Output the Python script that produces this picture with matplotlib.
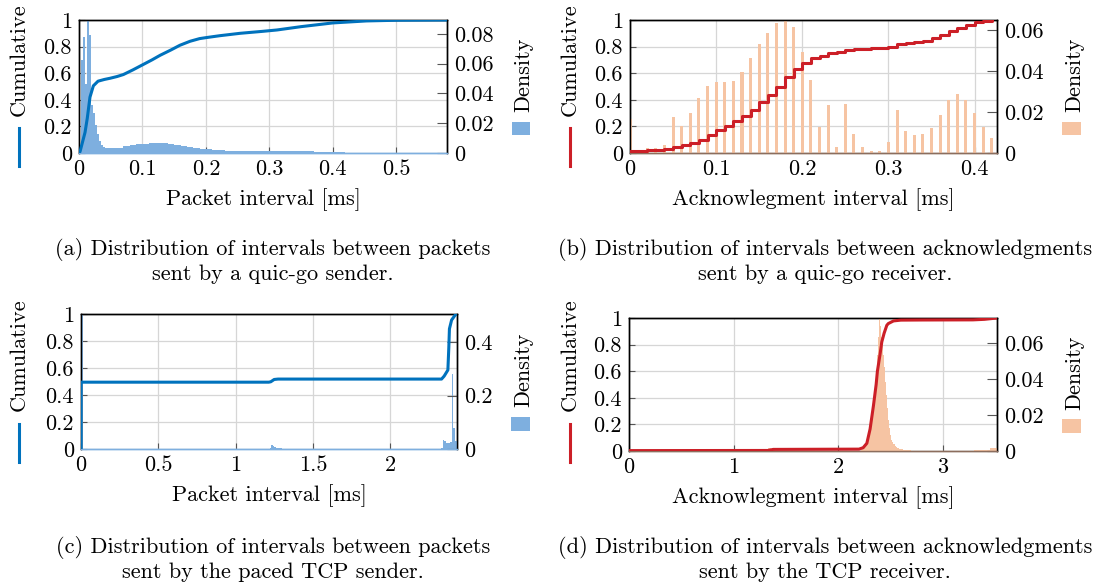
import numpy as np
import matplotlib
matplotlib.use("Agg")
import matplotlib.pyplot as plt
from matplotlib.lines import Line2D
from matplotlib.patches import Rectangle
from matplotlib.ticker import FuncFormatter

plt.rcParams['font.family'] = ['cmr10', 'DejaVu Serif']
plt.rcParams['mathtext.fontset'] = 'cm'
plt.rcParams['axes.unicode_minus'] = False
plt.rcParams['axes.formatter.use_mathtext'] = True

# ---------------- data ----------------
# (a) quic-go sender: packet intervals
a_hist_edges = [0, 0.0032, 0.0064, 0.0096, 0.0128, 0.016, 0.0192, 0.0224, 0.0256, 0.0288,
                0.032, 0.0352, 0.0384, 0.0416, 0.045, 0.05, 0.06, 0.07, 0.08, 0.09, 0.10,
                0.11, 0.12, 0.13, 0.14, 0.15, 0.16, 0.17, 0.18, 0.19, 0.20, 0.21, 0.22, 0.23,
                0.24, 0.25, 0.26, 0.27, 0.28, 0.29, 0.30, 0.31, 0.32, 0.33, 0.34, 0.35, 0.36,
                0.37, 0.38, 0.39, 0.40, 0.42, 0.45, 0.50, 0.58]
a_hist_density = [0.0054, 0.0626, 0.0778, 0.0465, 0.0894, 0.0796, 0.0322, 0.0268, 0.0188,
                  0.0125, 0.0080, 0.0054, 0.0040, 0.0036, 0.0031, 0.0031, 0.0036, 0.0045,
                  0.0054, 0.0061, 0.0063, 0.0064, 0.0065, 0.0064, 0.0061, 0.0055, 0.0049,
                  0.0043, 0.0036, 0.0030, 0.0025, 0.0021, 0.0017, 0.0015, 0.0013, 0.0012,
                  0.0011, 0.0011, 0.0011, 0.0012, 0.0013, 0.0014, 0.0015, 0.0015, 0.0015,
                  0.0013, 0.0011, 0.0009, 0.0007, 0.0005, 0.0004, 0.0003, 0.0002, 0.0001]
a_cdf_x = [0.0, 0.0016, 0.0095, 0.013, 0.0173, 0.0226, 0.030, 0.040, 0.049, 0.060, 0.070,
           0.085, 0.101, 0.115, 0.128, 0.145, 0.159, 0.175, 0.19, 0.201, 0.222, 0.254, 0.29,
           0.312, 0.35, 0.40, 0.453, 0.50, 0.58]
a_cdf_y = [0.0, 0.01, 0.155, 0.26, 0.42, 0.505, 0.54, 0.553, 0.562, 0.575, 0.59, 0.625, 0.665,
           0.70, 0.735, 0.775, 0.81, 0.84, 0.86, 0.868, 0.882, 0.90, 0.915, 0.925, 0.95,
           0.978, 0.993, 0.998, 1.0]

# (b) quic-go receiver: acknowledgment intervals
b_bins = [round(0.01 * i, 2) for i in range(43)]
b_hist_density = [0.0164, 0.0007, 0.0023, 0.0026, 0.0039, 0.0177, 0.0133, 0.0195, 0.0270,
                  0.0329, 0.0347, 0.0347, 0.0351, 0.0394, 0.0464, 0.0533, 0.0585, 0.0634,
                  0.0650, 0.0616, 0.0495, 0.0355, 0.0129, 0.0233, 0.0031, 0.0238, 0.0091,
                  0.0029, 0.0010, 0.0010, 0.0055, 0.0212, 0.0107, 0.0088, 0.0093, 0.0122,
                  0.0186, 0.0260, 0.0286, 0.0260, 0.0194, 0.0129, 0.0075]
b_cdf_y = [0.015, 0.017, 0.02, 0.024, 0.03, 0.048, 0.058, 0.078, 0.098, 0.133, 0.173, 0.203,
           0.243, 0.28, 0.323, 0.386, 0.436, 0.50, 0.569, 0.629, 0.68, 0.712, 0.73, 0.75,
           0.762, 0.774, 0.78, 0.785, 0.788, 0.79, 0.80, 0.82, 0.83, 0.837, 0.845, 0.862,
           0.887, 0.92, 0.937, 0.962, 0.985, 0.995, 1.0]

# (c) paced TCP sender: packet intervals
c_hist_edges = [0.0, 0.012, 1.22, 1.23, 1.24, 1.25, 1.26, 1.28, 1.30, 2.33, 2.34, 2.35, 2.36,
                2.37, 2.38, 2.39, 2.398, 2.405, 2.42, 2.43]
c_hist_density = [0.60, 0.0, 0.004, 0.015, 0.012, 0.008, 0.004, 0.002, 0.0, 0.005, 0.032,
                  0.030, 0.022, 0.024, 0.022, 0.026, 0.28, 0.08, 0.03]
c_cdf_x = [0.0, 0.0, 1.215, 1.228, 1.25, 1.275, 2.333, 2.35, 2.374, 2.380, 2.384, 2.398, 2.426]
c_cdf_y = [0.0, 0.495, 0.495, 0.498, 0.515, 0.518, 0.518, 0.54, 0.585, 0.75, 0.89, 0.955, 1.0]

# (d) TCP receiver: acknowledgment intervals
d_hist_edges = [0.0, 1.33, 1.36, 1.40, 2.22, 2.23, 2.24, 2.25, 2.26, 2.27, 2.28, 2.29, 2.30,
                2.31, 2.32, 2.33, 2.34, 2.35, 2.36, 2.37, 2.38, 2.39, 2.40, 2.41, 2.42, 2.43,
                2.44, 2.45, 2.46, 2.47, 2.48, 2.49, 2.50, 2.51, 2.52, 2.53, 2.54, 2.55, 2.56,
                2.57, 2.58, 2.62, 2.70, 3.30, 3.40, 3.45, 3.52]
d_hist_density = [0.0001, 0.0015, 0.0006, 0.0002, 0.0006, 0.0009, 0.0015, 0.0022, 0.0033,
                  0.0048, 0.0067, 0.0089, 0.0118, 0.0155, 0.0200, 0.0237, 0.0296, 0.0370,
                  0.0444, 0.0533, 0.0636, 0.0740, 0.0696, 0.0636, 0.0607, 0.0533, 0.0466,
                  0.0385, 0.0311, 0.0237, 0.0170, 0.0126, 0.0089, 0.0063, 0.0048, 0.0037,
                  0.0030, 0.0024, 0.0019, 0.0015, 0.0009, 0.0004, 0.0002, 0.0004, 0.0007,
                  0.0015]
d_cdf_x = [0.0, 1.33, 1.38, 2.20, 2.24, 2.275, 2.306, 2.338, 2.364, 2.376, 2.40, 2.418, 2.44,
           2.466, 2.48, 2.53, 2.60, 2.80, 3.29, 3.40, 3.52]
d_cdf_y = [0.003, 0.004, 0.012, 0.014, 0.025, 0.058, 0.165, 0.34, 0.50, 0.60, 0.72, 0.82,
           0.885, 0.945, 0.958, 0.978, 0.984, 0.985, 0.986, 0.99, 1.0]

left_ticks = [0, 0.2, 0.4, 0.6, 0.8, 1]
a_xticks = [0, 0.1, 0.2, 0.3, 0.4, 0.5]
b_xticks = [0, 0.1, 0.2, 0.3, 0.4]
c_xticks = [0, 0.5, 1, 1.5, 2]
d_xticks = [0, 1, 2, 3]
a_rticks = [0, 0.02, 0.04, 0.06, 0.08]
b_rticks = [0, 0.02, 0.04, 0.06]
c_rticks = [0, 0.2, 0.4]
d_rticks = [0, 0.02, 0.04, 0.06]

captions = [
    "(a) Distribution of intervals between packets\nsent by a quic-go sender.",
    "(b) Distribution of intervals between acknowledgments\nsent by a quic-go receiver.",
    "(c) Distribution of intervals between packets\nsent by the paced TCP sender.",
    "(d) Distribution of intervals between acknowledgments\nsent by the TCP receiver.",
]
xlabels = ["Packet interval [ms]", "Acknowlegment interval [ms]",
           "Packet interval [ms]", "Acknowlegment interval [ms]"]

# ---------------- style ----------------
W, H = 1102, 586
BLUE = "#0072BD"
BLUE_H = "#7EAFDF"
RED = "#CC1F27"
ORANGE_H = "#F6C4A3"
GRID = "#D6D6D6"
FS = 16
FS_CAP = 16

fig = plt.figure(figsize=(W / 100, H / 100), dpi=100)


def rect(l, t, r, b):
    return [l / W, 1 - b / H, (r - l) / W, (b - t) / H]


def fmt(v, pos):
    return "%g" % v


def setup(box, xmax, xticks, rmax, rticks, base_col):
    ax = fig.add_axes(rect(*box))
    ax2 = ax.twinx()
    ax.set_xlim(0, xmax)
    ax.set_ylim(0, 1)
    ax2.set_ylim(0, rmax)
    ax.set_xticks(xticks)
    ax.set_yticks(left_ticks)
    ax2.set_yticks(rticks)
    for a in (ax, ax2):
        a.xaxis.set_major_formatter(FuncFormatter(fmt))
        a.yaxis.set_major_formatter(FuncFormatter(fmt))
        for s in a.spines.values():
            s.set_linewidth(1.0)
            s.set_color("black")
    ax.grid(True, color=GRID, linewidth=0.9)
    ax.set_axisbelow(True)
    ax.tick_params(axis="both", direction="in", length=4, width=0.8, labelsize=FS,
                   pad=5, color="#555555")
    ax.tick_params(axis="y", right=False)
    ax2.tick_params(axis="y", direction="in", length=7, width=0.8, labelsize=FS, pad=5,
                    color="#555555")
    ax2.spines["bottom"].set_color(base_col)
    ax.spines["bottom"].set_color(base_col)
    return ax, ax2


def legend_marks(xc_left, y_text_c, y_line, line_col, xc_right, y_dtext_c, sq, hist_col):
    fig.text(xc_left / W, 1 - y_text_c / H, "Cumulative", rotation=90, ha="center",
             va="center", fontsize=FS)
    fig.add_artist(Line2D([xc_left / W, xc_left / W], [1 - y_line[0] / H, 1 - y_line[1] / H],
                          color=line_col, linewidth=2.2, transform=fig.transFigure))
    fig.text(xc_right / W, 1 - y_dtext_c / H, "Density", rotation=90, ha="center",
             va="center", fontsize=FS)
    l, t, r, b = sq
    fig.add_artist(Rectangle((l / W, 1 - b / H), (r - l) / W, (b - t) / H,
                             transform=fig.transFigure, color=hist_col, linewidth=0))


# (a)
ax, ax2 = setup((79, 20, 447, 153), 0.58, a_xticks, 0.0894, a_rticks, BLUE_H)
ax2.stairs(a_hist_density, a_hist_edges, fill=True, color=BLUE_H, linewidth=0)
ax2.plot(a_cdf_x, a_cdf_y, color=BLUE, linewidth=2.2, transform=ax.transData, zorder=5)
ax2.set_ylim(0, 0.0894)
ax.set_xlabel(xlabels[0], fontsize=FS, labelpad=6)

# (b)
ax, ax2 = setup((630, 20, 997, 153), 0.426, b_xticks, 0.065, b_rticks, "#8C6E5E")
ax2.bar(b_bins, b_hist_density, width=0.0035, color=ORANGE_H, linewidth=0)
ax2.plot(b_bins, b_cdf_y, color=RED, linewidth=2.2, drawstyle="steps-post",
         transform=ax.transData, zorder=5)
ax2.set_xlim(0, 0.426)
ax2.set_ylim(0, 0.065)
ax.set_xlabel(xlabels[1], fontsize=FS, labelpad=6)

# (c)
ax, ax2 = setup((81, 314, 457, 449), 2.433, c_xticks, 0.505, c_rticks, BLUE_H)
ax2.stairs(c_hist_density, c_hist_edges, fill=True, color=BLUE_H, linewidth=0)
ax2.plot(c_cdf_x, c_cdf_y, color=BLUE, linewidth=2.2, transform=ax.transData, zorder=5)
ax2.set_xlim(0, 2.433)
ax2.set_ylim(0, 0.505)
ax.set_xlabel(xlabels[2], fontsize=FS, labelpad=6)

# (d)
ax, ax2 = setup((629, 318, 997, 451), 3.52, d_xticks, 0.074, d_rticks, "#8C6E5E")
ax2.stairs(d_hist_density, d_hist_edges, fill=True, color=ORANGE_H, linewidth=0)
ax2.plot(d_cdf_x, d_cdf_y, color=RED, linewidth=2.2, transform=ax.transData, zorder=5)
ax2.set_xlim(0, 3.52)
ax2.set_ylim(0, 0.074)
ax.set_xlabel(xlabels[3], fontsize=FS, labelpad=6)

# legend-like labels
legend_marks(19, 60, (128, 166), BLUE, 524, 75, (512, 122, 530, 135), BLUE_H)
legend_marks(570, 60, (128, 166), RED, 1075, 75, (1062, 122, 1081, 135), ORANGE_H)
legend_marks(19, 355, (424, 462), BLUE, 524, 370, (511, 417, 530, 431), BLUE_H)
legend_marks(570, 355, (424, 462), RED, 1075, 373, (1062, 419, 1081, 433), ORANGE_H)

# captions
for cx, cy, txt in [(273, 261, captions[0]), (825, 261, captions[1]),
                    (273, 559, captions[2]), (825, 559, captions[3])]:
    fig.text(cx / W, 1 - cy / H, txt, ha="center", va="center", fontsize=FS_CAP,
             linespacing=1.2)

fig.savefig("out.png", dpi=100)
